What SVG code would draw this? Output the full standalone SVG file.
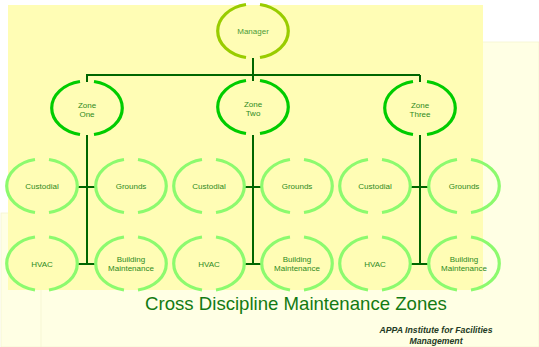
<svg xmlns="http://www.w3.org/2000/svg" width="539" height="347" viewBox="0 0 539 347">
<style>
.ring{fill:none;stroke-width:3.2;stroke-linecap:butt}
.mgr{stroke:#99CC00}
.zone{stroke:#00CC00}
.sub{stroke:#8CFA6E}
.lbl{font-family:"Liberation Sans",Arial,sans-serif;font-size:8px;text-anchor:middle;fill:#2E8A22}
.conn{fill:none;stroke:#006600;stroke-width:2}
</style>
<defs>
<path id="ring" d="M-7,-26.5A35 27 0 0 0 -7,26.5M7,-26.5A35 27 0 0 1 7,26.5"/>
</defs>
<rect x="0" y="0" width="539" height="347" fill="#FFFFFF"/>
<rect x="33" y="42" width="506" height="305" fill="#FFFFE4" stroke="#F4F4D0" stroke-width="0.8"/>
<rect x="1" y="213" width="40" height="134" fill="#FFFFE4" stroke="#F4F4D0" stroke-width="0.8"/>
<rect x="8" y="5" width="475" height="285" fill="#FFFDB5"/>

<g id="connectors">
<path class="conn" d="M253,58V81M86,75H420M87,75V82M420,75V82"/>
<path class="conn" d="M87,135V264M253,135V264M420,135V264"/>
<path class="conn" d="M77,187H97M243,187H263M410,187H430"/>
<path class="conn" d="M77,264H97M243,264H263M410,264H430"/>
</g>

<g id="manager" transform="translate(253,31)">
<use href="#ring" class="ring mgr"/>
<text class="lbl" y="3" fill="#4A9A3A" style="fill:#4C9B38">Manager</text>
</g>

<g id="zone-one" transform="translate(87,108)">
<use href="#ring" class="ring zone"/>
<text class="lbl" y="0">Zone</text><text class="lbl" y="9">One</text>
</g>
<g id="zone-two" transform="translate(253,107)">
<use href="#ring" class="ring zone"/>
<text class="lbl" y="0">Zone</text><text class="lbl" y="9">Two</text>
</g>
<g id="zone-three" transform="translate(420,108)">
<use href="#ring" class="ring zone"/>
<text class="lbl" y="0">Zone</text><text class="lbl" y="9">Three</text>
</g>

<g id="custodial-1" transform="translate(42,186)">
<use href="#ring" class="ring sub"/>
<text class="lbl" y="3">Custodial</text>
</g>
<g id="grounds-1" transform="translate(131,186)">
<use href="#ring" class="ring sub"/>
<text class="lbl" y="3">Grounds</text>
</g>
<g id="hvac-1" transform="translate(42,263.5)">
<use href="#ring" class="ring sub"/>
<text class="lbl" y="3">HVAC</text>
</g>
<g id="building-1" transform="translate(131,263.5)">
<use href="#ring" class="ring sub"/>
<text class="lbl" y="-2">Building</text><text class="lbl" y="7">Maintenance</text>
</g>

<g id="custodial-2" transform="translate(209,186)">
<use href="#ring" class="ring sub"/>
<text class="lbl" y="3">Custodial</text>
</g>
<g id="grounds-2" transform="translate(297,186)">
<use href="#ring" class="ring sub"/>
<text class="lbl" y="3">Grounds</text>
</g>
<g id="hvac-2" transform="translate(209,263.5)">
<use href="#ring" class="ring sub"/>
<text class="lbl" y="3">HVAC</text>
</g>
<g id="building-2" transform="translate(297,263.5)">
<use href="#ring" class="ring sub"/>
<text class="lbl" y="-2">Building</text><text class="lbl" y="7">Maintenance</text>
</g>

<g id="custodial-3" transform="translate(375,186)">
<use href="#ring" class="ring sub"/>
<text class="lbl" y="3">Custodial</text>
</g>
<g id="grounds-3" transform="translate(464,186)">
<use href="#ring" class="ring sub"/>
<text class="lbl" y="3">Grounds</text>
</g>
<g id="hvac-3" transform="translate(375,263.5)">
<use href="#ring" class="ring sub"/>
<text class="lbl" y="3">HVAC</text>
</g>
<g id="building-3" transform="translate(464,263.5)">
<use href="#ring" class="ring sub"/>
<text class="lbl" y="-2">Building</text><text class="lbl" y="7">Maintenance</text>
</g>

<text x="296" y="310" font-family="'Liberation Sans',Arial,sans-serif" font-size="18.6" text-anchor="middle" fill="#137A13">Cross Discipline Maintenance Zones</text>
<g font-family="'Liberation Sans',Arial,sans-serif" font-size="8.7" font-weight="bold" font-style="italic" text-anchor="middle" fill="#233A23">
<text x="436" y="333">APPA Institute for Facilities</text>
<text x="436" y="344">Management</text>
</g>
</svg>
